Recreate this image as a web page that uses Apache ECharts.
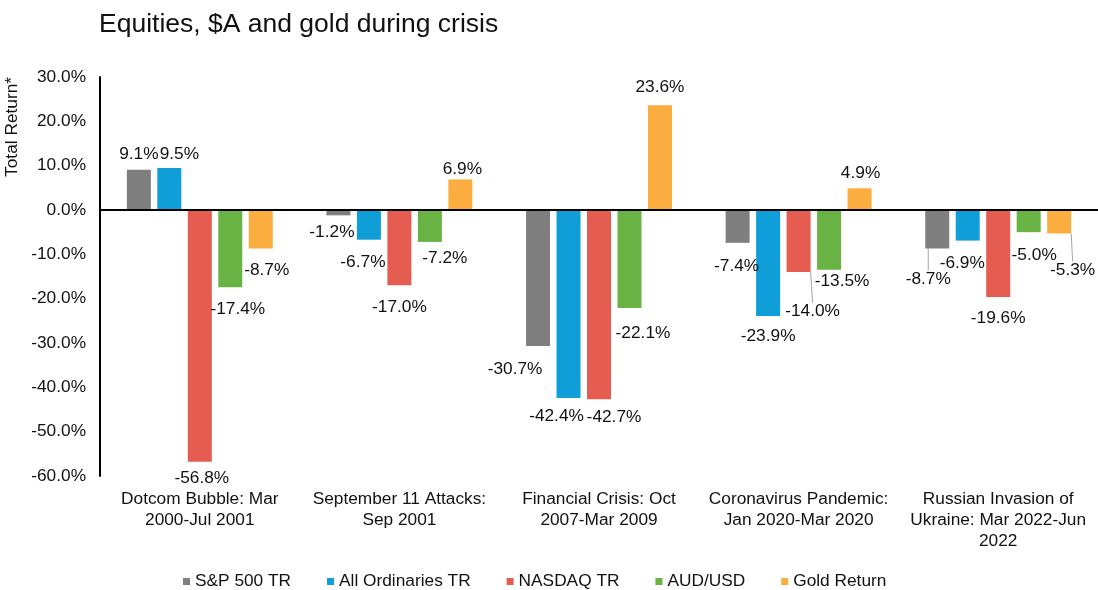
<!DOCTYPE html>
<html>
<head>
<meta charset="utf-8">
<script src="https://cdn.jsdelivr.net/npm/echarts@6/dist/echarts.min.js"></script>
<style>
html,body{margin:0;padding:0;background:#fff;}
#chart{width:1098px;height:590px;}
</style>
</head>
<body>
<div id="chart"></div>
<script>
const categories = [
  "Dotcom Bubble: Mar\n2000-Jul 2001",
  "September 11 Attacks:\nSep 2001",
  "Financial Crisis: Oct\n2007-Mar 2009",
  "Coronavirus Pandemic:\nJan 2020-Mar 2020",
  "Russian Invasion of\nUkraine: Mar 2022-Jun\n2022"
];
const seriesNames = ["S&P 500 TR", "All Ordinaries TR", "NASDAQ TR", "AUD/USD", "Gold Return"];
const sp500 = [9.1, -1.2, -30.7, -7.4, -8.7];
const allOrds = [9.5, -6.7, -42.4, -23.9, -6.9];
const nasdaq = [-56.8, -17.0, -42.7, -14.0, -19.6];
const audusd = [-17.4, -7.2, -22.1, -13.5, -5.0];
const gold = [-8.7, 6.9, 23.6, 4.9, -5.3];
const yTicks = [-60, -50, -40, -30, -20, -10, 0, 10, 20, 30];

const colors = ["#7f7f7f", "#109ed9", "#e55c50", "#69b244", "#fbae3f"];
// label nudges (style only): [dx, dy] per series per category
const labelShift = [
  [[0,-1.5],[-6.5,3],[-23,10],[-1,10],[-9,17]],
  [[10,-0.5],[-6,9],[-12,5],[0,7],[-5.5,9]],
  [[2,3],[0,8],[15,4],[14,26],[0,8]],
  [[7.5,9],[15,3],[13.5,12],[13,-2],[5.5,10]],
  [[6,8],[2,3.5],[0,-4.5],[1,-1.5],[13.5,23]]
];
const leaderLines = {"3-2": true, "4-0": true, "4-4": true};

const allValues = [sp500, allOrds, nasdaq, audusd, gold];
const FONT = "Liberation Sans, Arial, sans-serif";
const FS = 17.3;

const series = allValues.map((vals, si) => ({
  name: seriesNames[si],
  type: "bar",
  barWidth: 24,
  barGap: "27%",
  itemStyle: { color: colors[si] },
  label: {
    show: true,
    position: "outside",
    distance: 5,
    fontFamily: FONT,
    fontSize: FS,
    color: "#111",
    formatter: p => p.value.toFixed(1) + "%"
  },
  labelLine: { show: false, lineStyle: { color: "#a6a6a6", width: 1 } },
  labelLayout: p => {
    const s = labelShift[p.seriesIndex][p.dataIndex];
    return { dx: s[0], dy: s[1] };
  },
  data: vals.map((v, ci) => leaderLines[ci + "-" + si] ?
    { value: v, labelLine: { show: true, lineStyle: { color: "#a6a6a6", width: 1 } } } : { value: v }),
  markLine: si === 0 ? {
    silent: true,
    symbol: "none",
    label: { show: false },
    lineStyle: { color: "#000", width: 2, type: "solid" },
    data: [{ yAxis: 0 }]
  } : undefined
}));

const chart = echarts.init(document.getElementById("chart"));
chart.setOption({
  animation: false,
  backgroundColor: "#fff",
  textStyle: { fontFamily: FONT },
  title: {
    text: "Equities, $A and gold during crisis",
    left: 94, top: 6,
    textStyle: { fontFamily: FONT, fontSize: 26.5, fontWeight: "normal", color: "#111" }
  },
  graphic: [{
    type: "text",
    left: 4, top: 77,
    rotation: Math.PI / 2,
    style: { text: "Total Return*", font: FS + "px " + FONT, fill: "#111" }
  }],
  legend: {
    top: 568,
    left: 178,
    itemWidth: 7, itemHeight: 7, itemGap: 36,
    icon: "rect",
    textStyle: { fontFamily: FONT, fontSize: FS, color: "#111" },
    data: seriesNames
  },
  grid: { left: 100, right: 0, top: 77, bottom: 114, containLabel: false },
  xAxis: {
    type: "category",
    data: categories,
    axisLine: { show: false },
    axisTick: { show: false },
    axisLabel: { interval: 0, fontFamily: FONT, fontSize: FS, color: "#111", lineHeight: 21, margin: 13 }
  },
  yAxis: {
    type: "value",
    min: yTicks[0], max: yTicks[yTicks.length - 1], interval: 10,
    axisLine: { show: true, lineStyle: { color: "#000", width: 2 } },
    axisTick: { show: false },
    splitLine: { show: false },
    axisLabel: { fontFamily: FONT, fontSize: FS, color: "#111", margin: 14, formatter: v => v.toFixed(1) + "%" }
  },
  series: series
});
</script>
</body>
</html>
